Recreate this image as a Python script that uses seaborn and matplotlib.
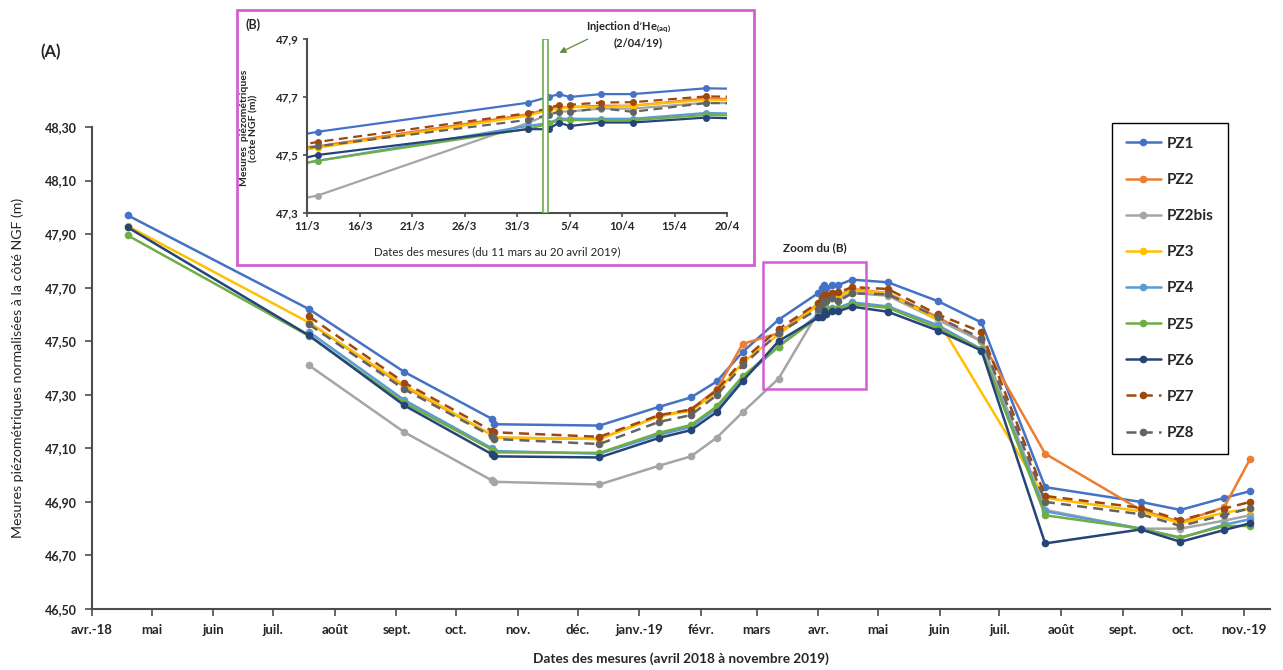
import numpy as np
import pandas as pd
import matplotlib
matplotlib.use("Agg")
import matplotlib.pyplot as plt
from matplotlib.patches import Rectangle, FancyArrowPatch
from matplotlib.transforms import ScaledTranslation
import seaborn as sns

# ---------------------- DONNÉES ----------------------
dates = pd.to_datetime([
    "2018-04-19", "2018-07-19", "2018-09-05", "2018-10-19", "2018-10-20",
    "2018-12-12", "2019-01-11", "2019-01-27", "2019-02-09", "2019-02-22",
    "2019-03-12", "2019-04-01", "2019-04-03", "2019-04-04", "2019-04-05",
    "2019-04-08", "2019-04-11", "2019-04-18", "2019-05-06", "2019-05-31",
    "2019-06-22", "2019-07-24", "2019-09-10", "2019-09-30", "2019-10-22",
    "2019-11-04",
])
nan = np.nan
pz1 = [47.97, 47.62, 47.385, 47.21, 47.19, 47.185, 47.255, 47.29, 47.35, 47.46,
       47.58, 47.68, 47.70, 47.71, 47.70, 47.71, 47.71, 47.73, 47.72, 47.65,
       47.57, 46.955, 46.90, 46.87, 46.915, 46.94]
pz2 = [nan, 47.57, 47.33, 47.15, 47.14, 47.135, 47.22, 47.245, 47.32, 47.49,
       47.53, 47.64, 47.66, 47.665, 47.665, 47.67, 47.67, 47.695, 47.68, 47.59,
       47.50, 47.08, 46.87, 46.825, 46.88, 47.06]
pz2bis = [nan, 47.41, 47.16, 46.98, 46.975, 46.965, 47.035, 47.07, 47.14, 47.235,
          47.36, 47.61, 47.64, 47.65, 47.65, 47.66, 47.66, 47.68, 47.67, 47.58,
          47.50, 46.87, 46.80, 46.80, 46.83, 46.85]
pz3 = [47.93, 47.57, 47.335, 47.15, 47.14, 47.135, 47.22, 47.24, 47.31, 47.42,
       47.525, 47.635, 47.655, 47.66, 47.665, 47.665, 47.67, 47.69, 47.68, 47.58,
       nan, 46.915, 46.865, 46.82, 46.86, 46.875]
pz4 = [nan, 47.535, 47.28, 47.10, 47.09, 47.08, 47.15, 47.18, 47.25, 47.36,
       47.48, 47.60, 47.61, 47.625, 47.625, 47.625, 47.625, 47.645, 47.63, 47.56,
       47.47, 46.865, 46.80, 46.765, 46.815, 46.835]
pz5 = [47.895, 47.52, 47.27, 47.095, 47.085, 47.083, 47.158, 47.187, 47.257, 47.369,
       47.48, 47.59, 47.607, 47.62, 47.62, 47.62, 47.62, 47.638, 47.625, 47.55,
       47.47, 46.85, 46.80, 46.767, 46.81, 46.81]
pz6 = [47.925, 47.522, 47.26, 47.078, 47.07, 47.066, 47.139, 47.168, 47.236, 47.351,
       47.50, 47.589, 47.589, 47.612, 47.60, 47.612, 47.612, 47.629, 47.61, 47.54,
       47.465, 46.745, 46.797, 46.751, 46.795, 46.82]
pz7 = [nan, 47.593, 47.345, 47.165, 47.16, 47.143, 47.224, 47.245, 47.317, 47.429,
       47.545, 47.644, 47.661, 47.673, 47.673, 47.681, 47.682, 47.702, 47.695, 47.60,
       47.535, 46.922, 46.878, 46.832, 46.875, 46.90]
pz8 = [nan, 47.563, 47.32, 47.145, 47.135, 47.116, 47.199, 47.224, 47.299, 47.41,
       47.53, 47.621, 47.638, 47.649, 47.649, 47.661, 47.649, 47.679, 47.675, 47.59,
       47.51, 46.90, 46.854, 46.81, 46.851, 46.876]

series_names = ["PZ1", "PZ2", "PZ2bis", "PZ3", "PZ4", "PZ5", "PZ6", "PZ7", "PZ8"]
series_values = [pz1, pz2, pz2bis, pz3, pz4, pz5, pz6, pz7, pz8]
series_colors = ["#4472C4", "#ED7D31", "#A5A5A5", "#FFC000", "#5B9BD5",
                 "#70AD47", "#264478", "#9E480E", "#636363"]
series_dashed = [False] * 7 + [True, True]

month_labels = ["avr.-18", "mai", "juin", "juil.", "août", "sept.", "oct.", "nov.",
                "déc.", "janv.-19", "févr.", "mars", "avr.", "mai", "juin", "juil.",
                "août", "sept.", "oct.", "nov.-19"]
inset_labels = ["11/3", "16/3", "21/3", "26/3", "31/3", "5/4", "10/4", "15/4", "20/4"]
injection_date = pd.Timestamp("2019-04-02 17:00")
# -----------------------------------------------------

sns.set_style("white")
plt.rcParams["font.family"] = ["Lato", "DejaVu Sans"]

W, H = 1283, 670
fig = plt.figure(figsize=(W / 100, H / 100), dpi=100)


def px(x0, y0, x1, y1):
    """Rectangle en pixels (haut-gauche / bas-droite) -> coordonnées figure."""
    return [x0 / W, 1 - y1 / H, (x1 - x0) / W, (y1 - y0) / H]


pink = "#D35FD3"
axis_col = "#4D4D4D"

# ---------------------- GRAPHIQUE PRINCIPAL (A) ----------------------
ax = fig.add_axes(px(92, 127, 1270, 609))

handles = []
for name, vals, col, dashed in zip(series_names, series_values, series_colors, series_dashed):
    df = pd.DataFrame({"date": dates, "niveau": vals}).dropna()
    sns.lineplot(data=df, x="date", y="niveau", ax=ax, color=col, marker="o",
                 markersize=5.5, markeredgewidth=0, linewidth=1.8,
                 linestyle=(0, (4, 2.5)) if dashed else "-", label=name)
    handles.append(ax.lines[-1])

ax.set_xlim(pd.Timestamp("2018-04-01"), pd.Timestamp("2019-11-14"))
ax.set_ylim(46.5, 48.3)
yt = np.round(np.arange(46.5, 48.31, 0.2), 2)
ax.set_yticks(yt)
ax.set_yticklabels([f"{v:.2f}".replace(".", ",") for v in yt],
                   fontsize=9, fontweight="bold")
month_ticks = pd.date_range("2018-04-01", "2019-11-01", freq="MS")
ax.set_xticks(month_ticks)
ax.set_xticklabels(month_labels, fontsize=9.5, fontweight="bold")
# comme dans Excel, les étiquettes intérieures sont un peu décalées à gauche des graduations
shift = ScaledTranslation(-11 / 100, 0, fig.dpi_scale_trans)
for lab in ax.get_xticklabels()[1:-1]:
    lab.set_transform(lab.get_transform() + shift)
ax.tick_params(axis="both", direction="out", length=5, width=1.2,
               color=axis_col, pad=6, bottom=True, left=True)
for s in ["top", "right"]:
    ax.spines[s].set_visible(False)
for s in ["left", "bottom"]:
    ax.spines[s].set_color(axis_col)
    ax.spines[s].set_linewidth(1.5)
ax.set_xlabel("")
ax.set_ylabel("")

fig.text(18 / W, 1 - 368 / H, "Mesures piézométriques normalisées à la côté NGF (m)",
         rotation=90, ha="center", va="center", fontsize=10.2)
fig.text(681 / W, 1 - 659 / H, "Dates des mesures (avril 2018 à novembre 2019)",
         ha="center", va="center", fontsize=9.8, fontweight="bold")
fig.text(40 / W, 1 - 52 / H, "(A)", ha="left", va="center", fontsize=12, fontweight="bold")

# cadre "Zoom du (B)"
zx0, zx1 = pd.Timestamp("2019-03-04"), pd.Timestamp("2019-04-25")
ax.add_patch(Rectangle((zx0, 47.32), zx1 - zx0, 0.475, fill=False,
                       edgecolor=pink, linewidth=1.8, zorder=5))
ax.text(zx0 + (zx1 - zx0) / 2, 47.85, "Zoom du (B)", ha="center", va="center",
        fontsize=8.5, fontweight="bold")

leg = ax.legend(handles, series_names, loc="upper left",
                bbox_to_anchor=(1112 / W, 1 - 123 / H), bbox_transform=fig.transFigure,
                frameon=True, fancybox=False, edgecolor="black", framealpha=1,
                prop={"weight": "bold", "size": 11}, labelspacing=1.45,
                handlelength=2.3, handletextpad=0.4, borderpad=0.9, borderaxespad=0)
leg.get_frame().set_linewidth(1.0)

# ---------------------- ENCART (B) ----------------------
fig.patches.append(Rectangle((237 / W, 1 - 265 / H), (754 - 237) / W, (265 - 10) / H,
                             transform=fig.transFigure, facecolor="white",
                             edgecolor=pink, linewidth=2, zorder=1))

axi = fig.add_axes(px(307, 39, 727, 213), zorder=2)
axi.patch.set_alpha(0)
for name, vals, col, dashed in zip(series_names, series_values, series_colors, series_dashed):
    df = pd.DataFrame({"date": dates, "niveau": vals}).dropna()
    sns.lineplot(data=df, x="date", y="niveau", ax=axi, color=col, marker="o",
                 markersize=5, markeredgewidth=0, linewidth=1.6,
                 linestyle=(0, (4, 2.5)) if dashed else "-", legend=False)

axi.axvspan(injection_date - pd.Timedelta(hours=5), injection_date + pd.Timedelta(hours=5),
            facecolor="white", edgecolor="#70AD47", linewidth=1.2, zorder=10)
axi.set_xlim(pd.Timestamp("2019-03-11"), pd.Timestamp("2019-04-20"))
axi.set_ylim(47.3, 47.9)
yti = [47.3, 47.5, 47.7, 47.9]
axi.set_yticks(yti)
axi.set_yticklabels([f"{v:.1f}".replace(".", ",") for v in yti],
                    fontsize=8.3, fontweight="bold")
axi.set_xticks(pd.date_range("2019-03-11", "2019-04-20", freq="5D"))
axi.set_xticklabels(inset_labels, fontsize=8.3, fontweight="bold")
axi.tick_params(axis="both", direction="out", length=3, width=1.2,
                color=axis_col, pad=3, bottom=True, left=True)
for s in ["top", "right"]:
    axi.spines[s].set_visible(False)
for s in ["left", "bottom"]:
    axi.spines[s].set_color(axis_col)
    axi.spines[s].set_linewidth(1.5)
axi.set_xlabel("")
axi.set_ylabel("")

fig.text(246 / W, 1 - 25 / H, "(B)", ha="left", va="center", fontsize=9,
         fontweight="bold", zorder=3)
fig.text(249 / W, 1 - 128 / H, "Mesures  piézométriques\n(côte NGF (m))", rotation=90,
         ha="center", va="center", fontsize=7.5, fontweight="bold", linespacing=1.1, zorder=3)
fig.text(497 / W, 1 - 252 / H, "Dates des mesures (du 11 mars au 20 avril 2019)",
         ha="center", va="center", fontsize=8.3, zorder=3)
fig.text(628 / W, 1 - 27 / H, "Injection d’He$_{\\mathregular{(aq)}}$", ha="center",
         va="center", fontsize=8, fontweight="bold", zorder=3)
fig.text(638 / W, 1 - 43 / H, "(2/04/19)", ha="center", va="center", fontsize=8,
         fontweight="bold", zorder=3)
fig.add_artist(FancyArrowPatch(
    (590 / W, 1 - 38 / H), (557 / W, 1 - 54 / H), transform=fig.transFigure,
    arrowstyle="-|>", mutation_scale=9, color="#5E8C3A", linewidth=0.9, zorder=3))

fig.savefig("out.png", dpi=100, facecolor="white")
